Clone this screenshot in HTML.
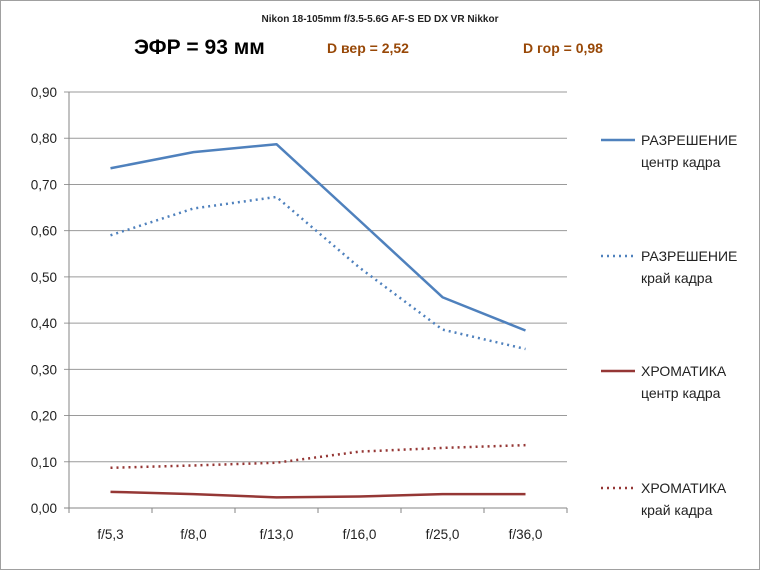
<!DOCTYPE html>
<html><head><meta charset="utf-8"><style>
body{margin:0;background:#fff;}
#wrap{position:relative;width:758px;height:568px;border:1px solid #a0a0a0;background:#fff;font-family:"Liberation Sans","DejaVu Sans",sans-serif;}
</style></head><body>
<div id="wrap">
<svg id="chart" width="758" height="568" viewBox="1 1 758 568"></svg>
</div>
<script>
const categories=["f/5,3","f/8,0","f/13,0","f/16,0","f/25,0","f/36,0"];
const resCenter=[0.735,0.770,0.787,0.622,0.456,0.384];
const resEdge=[0.590,0.648,0.673,0.520,0.386,0.344];
const chromCenter=[0.035,0.030,0.023,0.025,0.030,0.030];
const chromEdge=[0.087,0.092,0.098,0.122,0.130,0.136];
const yTicks=[0,0.1,0.2,0.3,0.4,0.5,0.6,0.7,0.8,0.9];
const yTickLabels=["0,00","0,10","0,20","0,30","0,40","0,50","0,60","0,70","0,80","0,90"];

const NS="http://www.w3.org/2000/svg";
const svg=document.getElementById('chart');
const L=69,R=567,T=92,B=508;
const bw=(R-L)/categories.length;
const x=i=>L+bw*(i+0.5);
const y=v=>B-(v/0.9)*(B-T);
function mk(tag,attrs,parent){const e=document.createElementNS(NS,tag);for(const k in attrs)e.setAttribute(k,attrs[k]);(parent||svg).appendChild(e);return e;}
function txt(s,attrs){const e=mk('text',attrs);e.textContent=s;return e;}

let t;
t=txt("Nikon 18-105mm f/3.5-5.6G AF-S ED DX VR Nikkor",{x:380,y:22,'text-anchor':'middle','font-size':10,'font-weight':'bold',fill:'#222'});

t=txt("ЭФР = 93 мм",{x:134,y:54,'font-size':21,'font-weight':'bold',fill:'#000'});

t=txt("D вер = 2,52",{x:327,y:53,'font-size':14,'font-weight':'bold',fill:'#984807'});

t=txt("D гор = 0,98",{x:523,y:53,'font-size':14,'font-weight':'bold',fill:'#984807'});


yTicks.forEach((v,i)=>{
  const g=mk('line',{x1:L-5,x2:R,y1:y(v),y2:y(v),stroke:i===0?'#868686':'#9a9a9a','stroke-width':1});
  
  
  const lb=txt(yTickLabels[i],{x:57,y:y(v)+5,'text-anchor':'end','font-size':13.5,fill:'#222'});
  
  
});
const ax=mk('line',{x1:L,x2:L,y1:T,y2:B,stroke:'#868686'});

for(let i=0;i<=categories.length;i++){
  const tk=mk('line',{x1:L+bw*i,x2:L+bw*i,y1:B,y2:B+5,stroke:'#868686'});
  
  
}
categories.forEach((c,i)=>{
  const lb=txt(c,{x:x(i),y:B+31,'text-anchor':'middle','font-size':13.5,fill:'#222'});
  
  
});

const series=[
 {d:resCenter,c:'#4f81bd',dash:null,w:2.5,name:'res-center',l1:'РАЗРЕШЕНИЕ',l2:'центр кадра',ly:140},
 {d:resEdge,c:'#4f81bd',dash:'2,4',w:2.5,name:'res-edge',l1:'РАЗРЕШЕНИЕ',l2:'край кадра',ly:256},
 {d:chromCenter,c:'#953735',dash:null,w:2.5,name:'chrom-center',l1:'ХРОМАТИКА',l2:'центр кадра',ly:371},
 {d:chromEdge,c:'#953735',dash:'2,4',w:2.5,name:'chrom-edge',l1:'ХРОМАТИКА',l2:'край кадра',ly:488},
];
series.forEach(s=>{
  const p=mk('polyline',{points:s.d.map((v,i)=>x(i)+','+y(v)).join(' '),fill:'none',stroke:s.c,'stroke-width':s.w,'stroke-linejoin':'round'});
  if(s.dash)p.setAttribute('stroke-dasharray',s.dash);
  
  
  const ll=mk('line',{x1:601,x2:635,y1:s.ly,y2:s.ly,stroke:s.c,'stroke-width':s.w});
  if(s.dash)ll.setAttribute('stroke-dasharray',s.dash);
  
  
  const t1=txt(s.l1,{x:641,y:s.ly+5,'font-size':14,fill:'#222'});
  
  
  const t2=txt(s.l2,{x:641,y:s.ly+27,'font-size':14,fill:'#222'});
  
  
});
</script>
</body></html>
